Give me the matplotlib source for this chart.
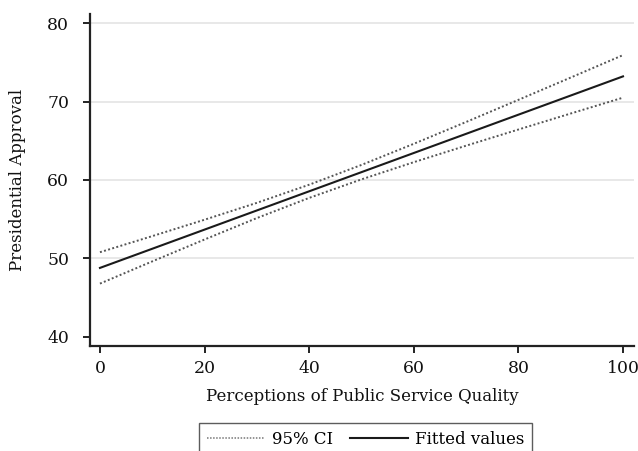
import matplotlib
matplotlib.use("Agg")
import matplotlib.pyplot as plt
from matplotlib.lines import Line2D

# Linear prediction of presidential approval with 95% confidence band
quality = [0, 10, 20, 30, 40, 50, 60, 70, 80, 90, 100]
fitted = [48.80, 51.24, 53.68, 56.12, 58.56, 61.00, 63.44, 65.88, 68.32, 70.76, 73.20]
ci_upper = [50.80, 52.85, 54.94, 57.09, 59.40, 61.92, 64.61, 67.39, 70.21, 73.05, 75.91]
ci_lower = [46.80, 49.63, 52.42, 55.15, 57.72, 60.08, 62.27, 64.37, 66.43, 68.47, 70.49]

x_ticks = [0, 20, 40, 60, 80, 100]
y_ticks = [40, 50, 60, 70, 80]
grid_levels = [50, 60, 70, 80]

plt.rcParams['font.family'] = ['DejaVu Serif']

fig = plt.figure(figsize=(6.38, 4.51), dpi=100)
ax = fig.add_axes([0.1411, 0.2328, 0.8526, 0.7362])

for g in grid_levels:
    ax.axhline(g, color='#e6e6e6', lw=1.3, zorder=0)

dot = (0, (1, 1.2))
ax.plot(quality, ci_upper, color='#555555', lw=1.4, ls=dot)
ax.plot(quality, ci_lower, color='#555555', lw=1.4, ls=dot)
ax.plot(quality, fitted, color='#1a1a1a', lw=1.5)

ax.set_xlim(-1.9, 102.1)
ax.set_ylim(38.85, 81.15)
ax.set_xticks(x_ticks)
ax.set_yticks(y_ticks)
ax.set_yticklabels([str(v) for v in y_ticks])

for s in ['top', 'right']:
    ax.spines[s].set_visible(False)
for s in ['left', 'bottom']:
    ax.spines[s].set_linewidth(1.6)
    ax.spines[s].set_color('#222222')

ax.tick_params(axis='both', direction='out', length=5, width=1.4, color='#222222',
               labelsize=12.4, labelcolor='#111111')
ax.tick_params(axis='y', pad=10)
ax.tick_params(axis='x', pad=5)

ax.set_xlabel('Perceptions of Public Service Quality', fontsize=12, color='#111111', labelpad=8)
ax.set_ylabel('Presidential Approval', fontsize=12, color='#111111', labelpad=15)

handles = [
    Line2D([], [], color='#777777', lw=1.1, ls=(0, (1, 1))),
    Line2D([], [], color='#1a1a1a', lw=1.5),
]
leg = fig.legend(handles, ['95% CI', 'Fitted values'], loc='upper center',
                 bbox_to_anchor=(0.573, 0.062), borderaxespad=0, ncol=2,
                 frameon=True, fancybox=False,
                 fontsize=12, handlelength=3.5, columnspacing=1.0, handletextpad=0.4,
                 borderpad=0.45)
leg.get_frame().set_edgecolor('#333333')
leg.get_frame().set_linewidth(1.0)

fig.savefig('out.png', dpi=100)
